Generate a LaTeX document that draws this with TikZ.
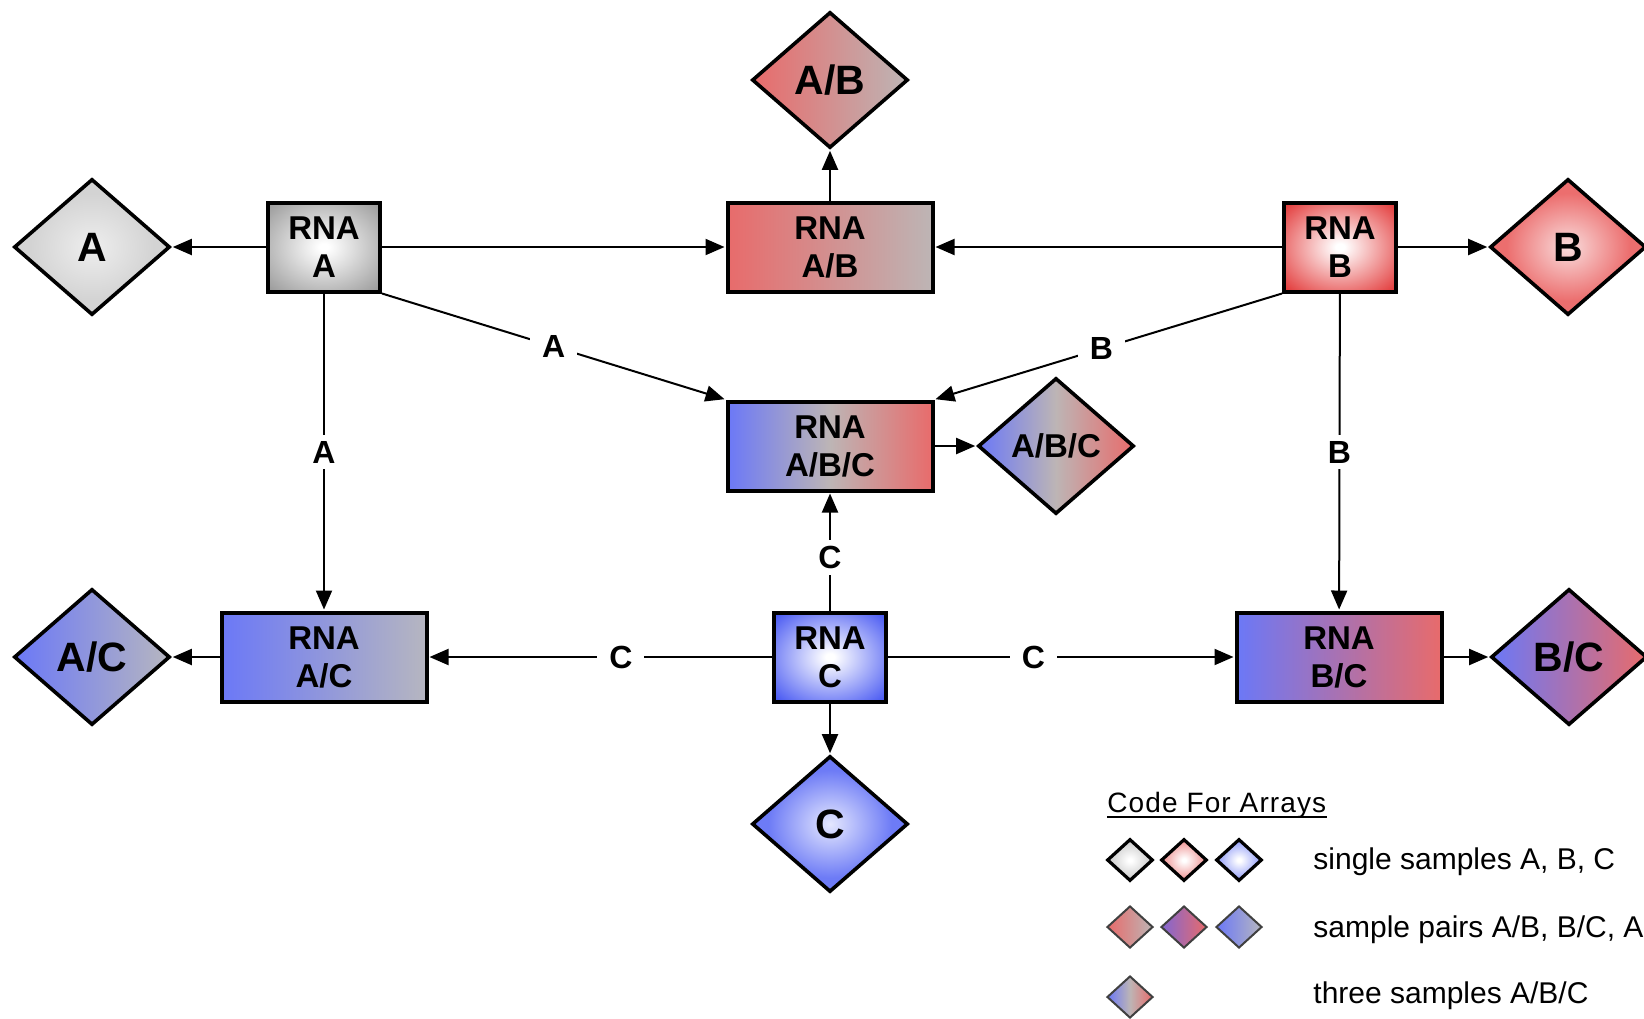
\documentclass[tikz,border=0pt]{standalone}
\usepackage{fontspec}
\setmainfont{Liberation Sans}
\usetikzlibrary{shapes.geometric,arrows.meta}

\definecolor{cred}{HTML}{E86B6B}
\definecolor{cblue}{HTML}{6B78F7}
\definecolor{cgray}{HTML}{BDB5B5}
\definecolor{cgrayb}{HTML}{B6B6C0}
\definecolor{bxgray}{HTML}{999999}
\definecolor{bxred}{HTML}{E23535}
\definecolor{bxblue}{HTML}{4253F2}
\definecolor{dAin}{HTML}{EEEEEE}
\definecolor{dAout}{HTML}{D3D3D3}
\definecolor{dBin}{HTML}{F9DCDC}
\definecolor{dBout}{HTML}{EC6E6E}
\definecolor{dCin}{HTML}{E4E7FE}
\definecolor{dCout}{HTML}{6D7BF6}
\definecolor{lAout}{HTML}{C8C8C8}
\definecolor{lBout}{HTML}{EE8E8E}
\definecolor{lCout}{HTML}{8E9AF8}

\pgfdeclareradialshading{boxA}{\pgfpoint{0bp}{0bp}}{color(0bp)=(white); color(2bp)=(white); color(35bp)=(bxgray); color(50bp)=(bxgray)}
\pgfdeclareradialshading{boxB}{\pgfpoint{0bp}{0bp}}{color(0bp)=(white); color(2bp)=(white); color(35bp)=(bxred); color(50bp)=(bxred)}
\pgfdeclareradialshading{boxC}{\pgfpoint{0bp}{0bp}}{color(0bp)=(white); color(2bp)=(white); color(35bp)=(bxblue); color(50bp)=(bxblue)}
\pgfdeclareradialshading{dmdA}{\pgfpoint{0bp}{0bp}}{color(0bp)=(dAin); color(20bp)=(dAout); color(50bp)=(dAout)}
\pgfdeclareradialshading{dmdB}{\pgfpoint{0bp}{0bp}}{color(0bp)=(dBin); color(20bp)=(dBout); color(50bp)=(dBout)}
\pgfdeclareradialshading{dmdC}{\pgfpoint{0bp}{0bp}}{color(0bp)=(dCin); color(20bp)=(dCout); color(50bp)=(dCout)}
\pgfdeclareradialshading{legA}{\pgfpoint{0bp}{0bp}}{color(0bp)=(white); color(2bp)=(white); color(25bp)=(lAout); color(50bp)=(lAout)}
\pgfdeclareradialshading{legB}{\pgfpoint{0bp}{0bp}}{color(0bp)=(white); color(2bp)=(white); color(25bp)=(lBout); color(50bp)=(lBout)}
\pgfdeclareradialshading{legC}{\pgfpoint{0bp}{0bp}}{color(0bp)=(white); color(2bp)=(white); color(25bp)=(lCout); color(50bp)=(lCout)}

\begin{document}
\begin{tikzpicture}[x=0.5pt,y=-0.5pt,
  rna/.style={draw=black, line width=2pt, rectangle, minimum height=44.5pt, align=center,
    font=\fontsize{16.5}{19}\selectfont\bfseries, inner sep=0pt},
  rnasmall/.style={rna, minimum width=56pt},
  rnawide/.style={rna, minimum width=102.5pt},
  dmd/.style={diamond, draw=black, line width=1.8pt, minimum width=78pt, minimum height=68pt,
    inner sep=0pt, font=\fontsize{20.5}{24}\selectfont\bfseries},
  conn/.style={line width=1pt, -{Triangle[length=9.5pt,width=8pt]}, shorten >=0.5pt},
  lbl/.style={fill=white, font=\fontsize{16}{19}\selectfont\bfseries, inner xsep=6pt, inner ysep=3pt},
  leg/.style={diamond, minimum width=23pt, minimum height=21pt, inner sep=0pt},
  legone/.style={leg, draw=black, line width=1.6pt},
  legtwo/.style={leg, draw=black!75, line width=1pt},
  legtext/.style={anchor=base west, inner sep=0pt, font=\fontsize{15}{18}\selectfont}
]
\useasboundingbox (0,0) rectangle (1644,1018);

% RNA boxes
\node[rnasmall, shading=boxA] (rnaA) at (324,247) {RNA\\A};
\node[rnawide, left color=cred, right color=cgray] (rnaAB) at (830,247) {RNA\\A/B};
\node[rnasmall, shading=boxB] (rnaB) at (1340,247) {RNA\\B};
\node[rnawide, left color=cblue, right color=cred, middle color=cgray] (rnaABC) at (830,446) {RNA\\A/B/C};
\node[rnawide, left color=cblue, right color=cgrayb] (rnaAC) at (324,657) {RNA\\A/C};
\node[rnasmall, shading=boxC] (rnaC) at (830,657) {RNA\\C};
\node[rnawide, left color=cblue, right color=cred] (rnaBC) at (1339,657) {RNA\\B/C};

% array diamonds
\node[dmd, shading=dmdA] (dA) at (92,247) {A};
\node[dmd, left color=cred, right color=cgray] (dAB) at (830,80) {A/B};
\node[dmd, shading=dmdB] (dB) at (1568,247) {B};
\node[dmd, left color=cblue, right color=cred, middle color=cgray, font=\fontsize{16.5}{19}\selectfont\bfseries] (dABC) at (1056,446) {A/B/C};
\node[dmd, left color=cblue, right color=cgrayb] (dAC) at (92,657) {A/C};
\node[dmd, shading=dmdC] (dC) at (830,824) {C};
\node[dmd, left color=cblue, right color=cred] (dBC) at (1569,657) {B/C};

% connectors
\draw[conn] (rnaA) -- (dA);
\draw[conn] (rnaA) -- (rnaAB);
\draw[conn] (rnaB) -- (rnaAB);
\draw[conn] (rnaB) -- (dB);
\draw[conn] (rnaAB) -- (dAB);
\draw[conn] (rnaA.south east) -- node[lbl]{A} (rnaABC.north west);
\draw[conn] (rnaB.south west) -- node[lbl,pos=0.52]{B} (rnaABC.north east);
\draw[conn] (rnaA) -- node[lbl]{A} (rnaAC);
\draw[conn] (rnaB) -- node[lbl]{B} (rnaBC);
\draw[conn] (rnaC) -- node[lbl,pos=0.45]{C} (rnaABC);
\draw[conn] (rnaC) -- node[lbl,pos=0.44]{C} (rnaAC);
\draw[conn] (rnaC) -- node[lbl,pos=0.42]{C} (rnaBC);
\draw[conn] (rnaC) -- (dC);
\draw[conn] (rnaAC) -- (dAC);
\draw[conn] (rnaBC) -- (dBC);
\draw[conn] (rnaABC) -- (dABC);

% legend
\node[anchor=base west, inner sep=0pt, font=\fontsize{14}{17}\selectfont\addfontfeature{LetterSpace=4}] (title) at (1107,812) {Code For Arrays};
\draw[line width=1.2pt] ([yshift=-2.5pt]title.base west) -- ([yshift=-2.5pt]title.base east);

\node[legone, shading=legA] (l1a) at (1130,860) {};
\node[legone, shading=legB] (l1b) at (1184,860) {};
\node[legone, shading=legC] (l1c) at (1239,860) {};
\node[legtwo, left color=cred, right color=cgray] (l2a) at (1130,927) {};
\node[legtwo, left color=cblue!85!red, right color=cred] (l2b) at (1184,927) {};
\node[legtwo, left color=cblue, right color=cgrayb] (l2c) at (1239,927) {};
\node[legtwo, left color=cblue, right color=cred, middle color=cgray] (l3a) at (1130,997) {};

\node[legtext] (t1) at (1313,869) {single samples A, B, C};
\node[legtext] (t2) at (1313,937) {sample pairs A/B, B/C, A};
\node[legtext] (t3) at (1313,1003) {three samples A/B/C};
\end{tikzpicture}
\end{document}
